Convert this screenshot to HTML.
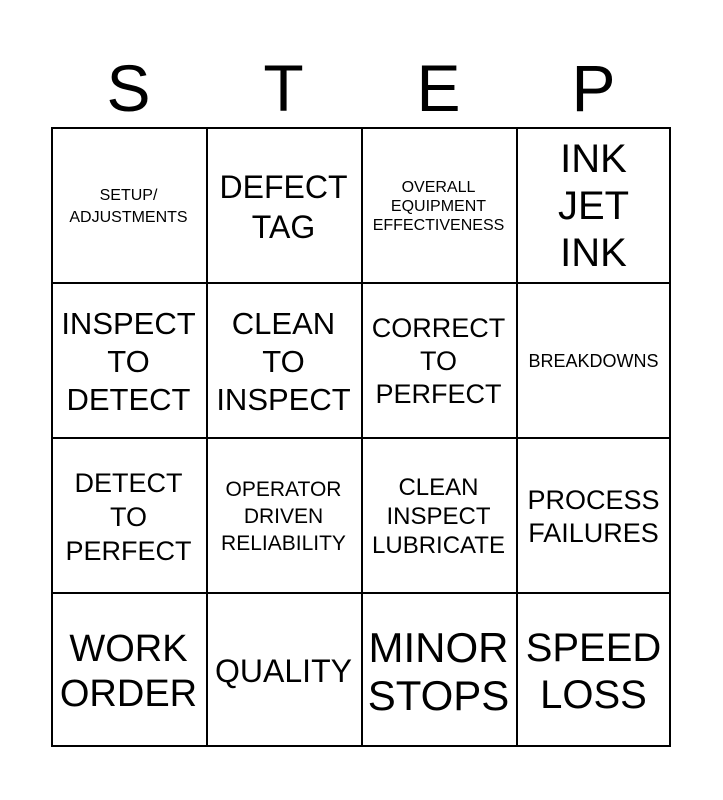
<!DOCTYPE html>
<html><head><meta charset="utf-8"><style>
body{margin:0;width:723px;height:800px;background:#fff;font-family:"Liberation Sans",Arial,sans-serif;position:relative;overflow:hidden}
.h{position:absolute;top:50px;font-size:66px;width:155px;text-align:center;line-height:76px}
.grid{position:absolute;left:51px;top:127px;width:620px;height:620px;border:2px solid #000;box-sizing:border-box}
.c{position:absolute;width:155px;height:155px;display:flex;align-items:center;justify-content:center;text-align:center;box-sizing:border-box;margin-left:-2px}
.v{position:absolute;top:0;width:2px;height:100%;background:#000}
.hl{position:absolute;left:0;height:2px;width:100%;background:#000}
</style></head><body>
<div class="h" style="left:51px">S</div>
<div class="h" style="left:206px">T</div>
<div class="h" style="left:361px">E</div>
<div class="h" style="left:516px">P</div>
<div class="grid">
<div class="v" style="left:153px"></div><div class="v" style="left:308px"></div><div class="v" style="left:463px"></div>
<div class="hl" style="top:153px"></div><div class="hl" style="top:308px"></div><div class="hl" style="top:463px"></div>

<div class="c" style="left:0;top:0;font-size:16px;line-height:22px">SETUP/<br>ADJUSTMENTS</div>
<div class="c" style="left:155px;top:0;font-size:32px;line-height:40px">DEFECT<br>TAG</div>
<div class="c" style="left:310px;top:0;font-size:16px;line-height:19px">OVERALL<br>EQUIPMENT<br>EFFECTIVENESS</div>
<div class="c" style="left:465px;top:0;font-size:40px;line-height:47px">INK<br>JET<br>INK</div>

<div class="c" style="left:0;top:155px;font-size:31px;line-height:38px">INSPECT<br>TO<br>DETECT</div>
<div class="c" style="left:155px;top:155px;font-size:31px;line-height:38px">CLEAN<br>TO<br>INSPECT</div>
<div class="c" style="left:310px;top:155px;font-size:27px;line-height:33px">CORRECT<br>TO<br>PERFECT</div>
<div class="c" style="left:465px;top:155px;font-size:18px">BREAKDOWNS</div>

<div class="c" style="left:0;top:310px;font-size:27px;line-height:34px">DETECT<br>TO<br>PERFECT</div>
<div class="c" style="left:155px;top:310px;font-size:21px;line-height:27px">OPERATOR<br>DRIVEN<br>RELIABILITY</div>
<div class="c" style="left:310px;top:310px;font-size:24px;line-height:29px">CLEAN<br>INSPECT<br>LUBRICATE</div>
<div class="c" style="left:465px;top:310px;font-size:27px;line-height:33px">PROCESS<br>FAILURES</div>

<div class="c" style="left:0;top:465px;font-size:38px;line-height:45px">WORK<br>ORDER</div>
<div class="c" style="left:155px;top:465px;font-size:32px">QUALITY</div>
<div class="c" style="left:310px;top:465px;font-size:42px;line-height:48px">MINOR<br>STOPS</div>
<div class="c" style="left:465px;top:465px;font-size:40px;line-height:47px">SPEED<br>LOSS</div>
</div>
</body></html>
